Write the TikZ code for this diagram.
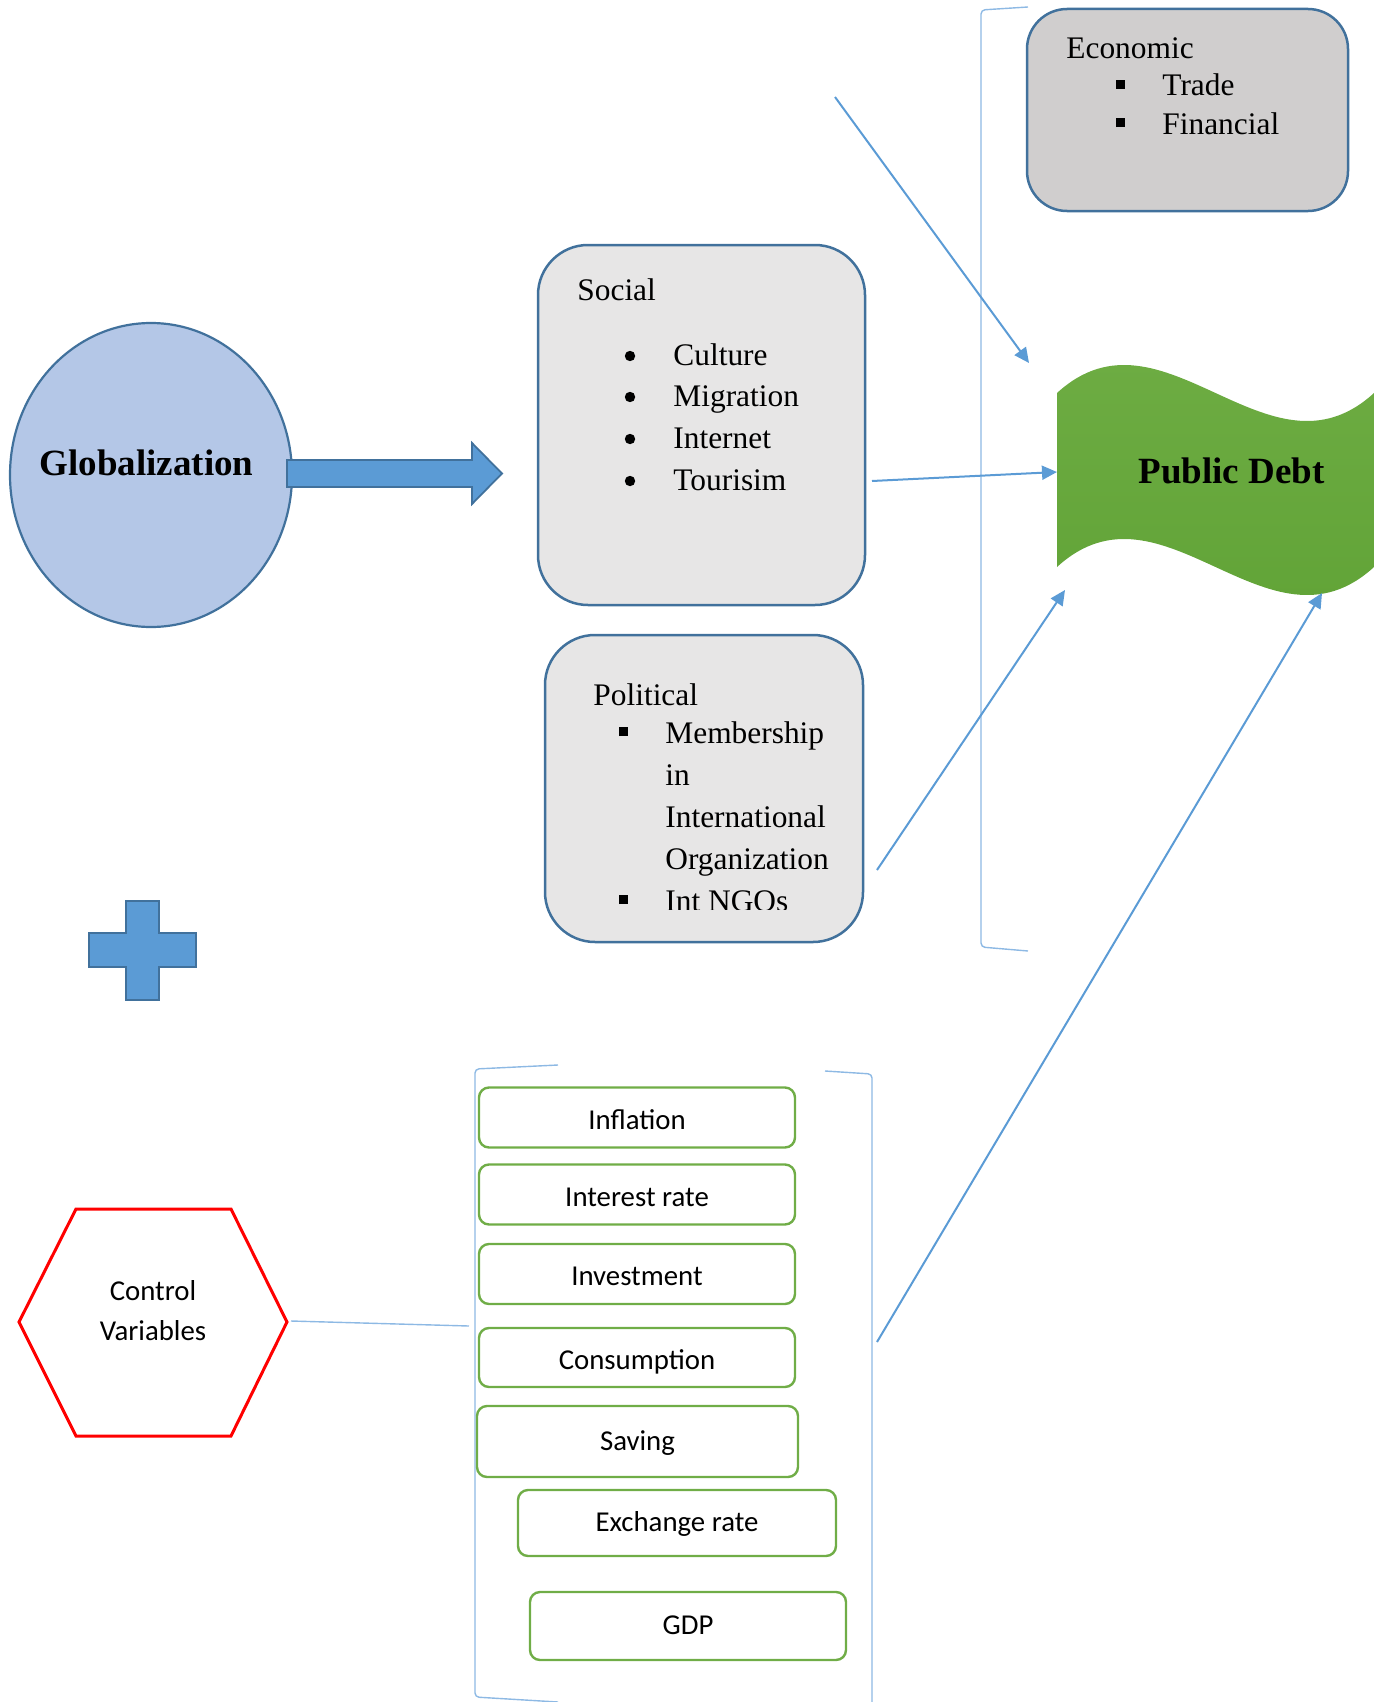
\documentclass[tikz,border=0pt]{standalone}
\usepackage{fontspec}
\setmainfont{Liberation Serif}
\newfontfamily\calibri{Carlito}
\usetikzlibrary{arrows.meta,shapes.geometric}

\definecolor{outline}{HTML}{41719C}
\definecolor{econfill}{HTML}{D0CECE}
\definecolor{themefill}{HTML}{E7E6E6}
\definecolor{globefill}{HTML}{B4C7E7}
\definecolor{arrowblue}{HTML}{5B9BD5}
\definecolor{bracketblue}{HTML}{8DB9E4}
\definecolor{vargreen}{HTML}{70AD47}
\definecolor{debttop}{HTML}{70AE45}
\definecolor{debtbottom}{HTML}{5FA235}

\tikzstyle{theme-box}=[draw=outline, line width=1.25pt, fill=themefill, rounded corners=25pt]
\tikzstyle{var-box}=[draw=vargreen, line width=1.2pt, rounded corners=5pt, minimum width=158pt, minimum height=30pt,
  font=\calibri\fontsize{14.4}{17}\selectfont, text height=11.5pt, text depth=0pt]
\tikzstyle{body-text}=[inner sep=0pt, anchor=base west, font=\fontsize{15.7}{18}\selectfont]
\tikzstyle{bullet-mark}=[inner sep=0pt, anchor=base, font=\fontsize{15.7}{18}\selectfont]
\tikzstyle{round-bullet}=[circle, fill=black, inner sep=0pt, minimum size=5.2pt]
\tikzstyle{title-text}=[inner sep=0pt, anchor=base, font=\bfseries\fontsize{18.5}{22}\selectfont]
\tikzstyle{link-arrow}=[draw=arrowblue, line width=1pt, -{Triangle[length=7.5pt,width=7pt]}]
\tikzstyle{bracket-line}=[draw=bracketblue, line width=0.7pt, rounded corners=2pt]
\newcommand{\sqbullet}{\rule[3.5pt]{4.5pt}{4.5pt}}

\begin{document}
\begin{tikzpicture}[x=0.5pt, y=-0.5pt]
  \useasboundingbox (0,0) rectangle (1374,1702);

  % globalization and its arrow
  \node (globe) at (151,475)
        [ellipse, draw=outline, line width=1.1pt, fill=globefill, minimum width=141pt, minimum height=152pt, inner sep=0pt] {};
  \node (globe-title) at (146.5,475) [title-text] {Globalization};
  \draw[draw=outline, line width=0.9pt, fill=arrowblue]
        (287,460) -- (472,460) -- (472,443) -- (502,473.5) -- (472,504) -- (472,487) -- (287,487) -- cycle;

  % plus sign
  \draw[draw=outline, line width=1pt, fill=arrowblue]
        (126,901) -- (159,901) -- (159,933) -- (196,933) -- (196,967) -- (159,967)
        -- (159,1000) -- (126,1000) -- (126,967) -- (89,967) -- (89,933) -- (126,933) -- cycle;

  % brackets
  \draw[bracket-line] (1028,7) -- (981,10) -- (981,947) -- (1028,951);
  \draw[bracket-line] (558,1065) -- (475,1069) -- (475,1697) -- (558,1702);
  \draw[bracket-line] (825,1071) -- (872,1074) -- (872,1710);

  % economic
  \node (econ) at (1187.5,110) [theme-box, fill=econfill, rounded corners=20pt, minimum width=160.5pt, minimum height=101pt] {};
  \node (econ-title) at (1066,59) [body-text] {Economic};
  \node (econ-b1) at (1120,96) [bullet-mark] {\sqbullet};
  \node (econ-i1) at (1162,96) [body-text] {Trade};
  \node (econ-b2) at (1120,134) [bullet-mark] {\sqbullet};
  \node (econ-i2) at (1162,134) [body-text] {Financial};

  % social
  \node (social) at (701.5,425) [theme-box, minimum width=163.5pt, minimum height=180pt] {};
  \node (social-title) at (577,300) [body-text] {Social};
  \node (social-b1) at (630,356) [round-bullet] {};
  \node (social-i1) at (673,365) [body-text] {Culture};
  \node (social-b2) at (630,397) [round-bullet] {};
  \node (social-i2) at (673,406) [body-text] {Migration};
  \node (social-b3) at (630,439) [round-bullet] {};
  \node (social-i3) at (673,448) [body-text] {Internet};
  \node (social-b4) at (630,481) [round-bullet] {};
  \node (social-i4) at (673,490) [body-text] {Tourisim};

  % political
  \node (political) at (704,788.5) [theme-box, minimum width=159pt, minimum height=153.5pt] {};
  \node (political-title) at (593,705) [body-text] {Political};
  \node (political-b1) at (623,743) [bullet-mark] {\sqbullet};
  \node (political-i1) at (665,743) [body-text] {Membership};
  \node (political-i2) at (665,785) [body-text] {in};
  \node (political-i3) at (665,827) [body-text] {International};
  \node (political-i4) at (665,869) [body-text] {Organization};
  \begin{scope}
    \clip (545,880) rectangle (863,909);
    \node (political-b2) at (623,911) [bullet-mark] {\sqbullet};
    \node (political-i5) at (665,911) [body-text] {Int NGOs};
  \end{scope}

  % public debt
  \shade[top color=debttop, bottom color=debtbottom]
        (1057,393) .. controls (1162.7,296) and (1268.3,490) .. (1374,393) -- (1374,567)
        .. controls (1268.3,664) and (1162.7,470) .. (1057,567) -- cycle;
  \node (debt) at (1231.5,483) [title-text] {Public Debt};

  % control variables
  \draw[draw=red, line width=1.5pt] (19,1322) -- (76,1209) -- (231,1209) -- (287,1322) -- (231,1436) -- (76,1436) -- cycle;
  \node (ctrl-1) at (153,1300) [anchor=base, inner sep=0pt, font=\calibri\fontsize{14.4}{17}\selectfont] {Control};
  \node (ctrl-2) at (153,1340) [anchor=base, inner sep=0pt, font=\calibri\fontsize{14.4}{17}\selectfont] {Variables};

  \node (inflation) at (637,1117.5) [var-box] {Inflation};
  \node (interest) at (637,1194.5) [var-box] {Interest rate};
  \node (investment) at (637,1274) [var-box] {Investment};
  \node (consumption) at (637,1357.5) [var-box, minimum height=29.5pt] {Consumption};
  \node (saving) at (637.5,1441.5) [var-box, minimum width=160.5pt, minimum height=35.5pt, text depth=3pt] {Saving};
  \node (exchange) at (677,1523) [var-box, minimum width=159pt, minimum height=33pt, text depth=3pt] {Exchange rate};
  \node (gdp) at (688,1626) [var-box, minimum height=34pt, text depth=3pt] {GDP};

  % connectors
  \coordinate (hex-east) at (291,1321);
  \coordinate (vars-west) at (469,1326);
  \coordinate (trade-out) at (835,97);
  \coordinate (debt-in1) at (1029,363);
  \coordinate (social-out) at (872,481);
  \coordinate (debt-in2) at (1057,472);
  \coordinate (political-out) at (877,870);
  \coordinate (debt-in3) at (1065,590);
  \coordinate (vars-out) at (877,1342);
  \coordinate (debt-in4) at (1322,593);

  \draw[draw=bracketblue, line width=0.7pt] (hex-east) -- (vars-west);
  \draw[link-arrow] (trade-out) -- (debt-in1);
  \draw[link-arrow] (social-out) -- (debt-in2);
  \draw[link-arrow] (political-out) -- (debt-in3);
  \draw[link-arrow] (vars-out) -- (debt-in4);
\end{tikzpicture}
\end{document}
